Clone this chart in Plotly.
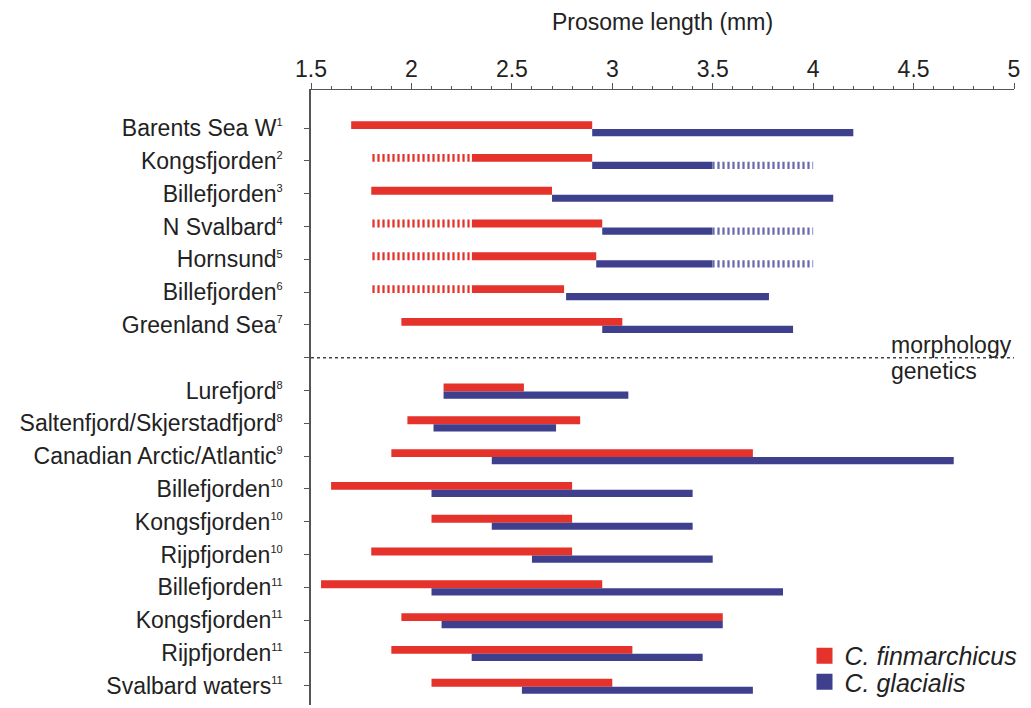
import plotly.graph_objects as go

# ---- data ----
labels = ["Barents Sea W", "Kongsfjorden", "Billefjorden", "N Svalbard", "Hornsund",
          "Billefjorden", "Greenland Sea", "Lurefjord", "Saltenfjord/Skjerstadfjord",
          "Canadian Arctic/Atlantic", "Billefjorden", "Kongsfjorden", "Rijpfjorden",
          "Billefjorden", "Kongsfjorden", "Rijpfjorden", "Svalbard waters"]
refs = [1, 2, 3, 4, 5, 6, 7, 8, 8, 9, 10, 10, 10, 11, 11, 11, 11]
slots = [0, 1, 2, 3, 4, 5, 6, 8, 9, 10, 11, 12, 13, 14, 15, 16, 17]
divider_slot = 7

fin_min = [1.70, 2.30, 1.80, 2.30, 2.30, 2.30, 1.95, 2.16, 1.98, 1.90, 1.60, 2.10, 1.80, 1.55, 1.95, 1.90, 2.10]
fin_max = [2.90, 2.90, 2.70, 2.95, 2.92, 2.76, 3.05, 2.56, 2.84, 3.70, 2.80, 2.80, 2.80, 2.95, 3.55, 3.10, 3.00]
gla_min = [2.90, 2.90, 2.70, 2.95, 2.92, 2.77, 2.95, 2.16, 2.11, 2.40, 2.10, 2.40, 2.60, 2.10, 2.15, 2.30, 2.55]
gla_max = [4.20, 3.50, 4.10, 3.50, 3.50, 3.78, 3.90, 3.08, 2.72, 4.70, 3.40, 3.40, 3.50, 3.85, 3.55, 3.45, 3.70]
# uncertain (hatched) extensions
fin_unc_min = [None, 1.80, None, 1.80, 1.80, 1.80, None, None, None, None, None, None, None, None, None, None, None]
gla_unc_max = [None, 4.00, None, 4.00, 4.00, None, None, None, None, None, None, None, None, None, None, None, None]

x_ticks = [1.5, 2, 2.5, 3, 3.5, 4, 4.5, 5]
x_ticktext = ["1.5", "2", "2.5", "3", "3.5", "4", "4.5", "5"]

RED = "#E5322B"
BLUE = "#3E3F8D"
TXT = "#222222"
FONT = "Arial, Liberation Sans, sans-serif"

fig = go.Figure()

RED_W, RED_OFF = 0.24, -0.21
BLUE_W, BLUE_OFF = 0.22, 0.03

# solid bars
fig.add_trace(go.Bar(orientation="h", y=slots, base=fin_min,
                     x=[b - a for a, b in zip(fin_min, fin_max)],
                     width=RED_W, offset=RED_OFF,
                     marker=dict(color=RED, line=dict(width=0)), showlegend=False))
fig.add_trace(go.Bar(orientation="h", y=slots, base=gla_min,
                     x=[b - a for a, b in zip(gla_min, gla_max)],
                     width=BLUE_W, offset=BLUE_OFF,
                     marker=dict(color=BLUE, line=dict(width=0)), showlegend=False))

# hatched uncertain parts
fu = [(s, u, m) for s, u, m in zip(slots, fin_unc_min, fin_min) if u is not None]
fig.add_trace(go.Bar(orientation="h", y=[r[0] for r in fu], base=[r[1] for r in fu],
                     x=[r[2] - r[1] for r in fu], width=RED_W, offset=RED_OFF,
                     marker=dict(color="white", line=dict(width=0),
                                 pattern=dict(shape="|", fgcolor=RED, bgcolor="white",
                                              size=5, solidity=0.45, fillmode="replace")),
                     showlegend=False))
gu = [(s, m, u) for s, m, u in zip(slots, gla_max, gla_unc_max) if u is not None]
fig.add_trace(go.Bar(orientation="h", y=[r[0] for r in gu], base=[r[1] for r in gu],
                     x=[r[2] - r[1] for r in gu], width=BLUE_W, offset=BLUE_OFF,
                     marker=dict(color="white", line=dict(width=0),
                                 pattern=dict(shape="|", fgcolor="#6A6AAE", bgcolor="white",
                                              size=5, solidity=0.45, fillmode="replace")),
                     showlegend=False))

# legend entries (one legend each, to control row spacing)
fig.add_trace(go.Scatter(x=[None], y=[None], mode="markers", name="<i>C. finmarchicus</i>",
                         marker=dict(symbol="square", size=16, color=RED), legend="legend"))
fig.add_trace(go.Scatter(x=[None], y=[None], mode="markers", name="<i>C. glacialis</i>",
                         marker=dict(symbol="square", size=16, color=BLUE), legend="legend2"))

tickvals = slots[:7] + [divider_slot] + slots[7:]
ticktext = [f"{l}<sup><span style='font-size:11px'>{r}</span></sup>" for l, r in zip(labels, refs)]
ticktext = ticktext[:7] + [""] + ticktext[7:]

leg_common = dict(xanchor="left", font=dict(size=25),
                  bgcolor="rgba(0,0,0,0)", itemsizing="trace", tracegroupgap=0)

fig.update_layout(
    width=1031, height=708,
    margin=dict(l=311, r=17, t=90, b=3),
    paper_bgcolor="white", plot_bgcolor="white",
    barmode="overlay",
    font=dict(family=FONT, size=23, color=TXT),
    xaxis=dict(side="top", range=[1.5, 5], tickvals=x_ticks, ticktext=x_ticktext,
               automargin=False,
               ticks="outside", ticklen=6, tickwidth=1.2, tickcolor="#555",
               showline=True, linecolor="#555", linewidth=1.2,
               showgrid=False, zeroline=False, ticklabelstandoff=-3,
               minor=dict(dtick=0.1, ticks="outside", ticklen=3, tickcolor="#555", tickwidth=1),
               title=dict(text="Prosome length (mm)", standoff=18, font=dict(size=23)),
               tickfont=dict(size=23)),
    yaxis=dict(range=[17.59, -1.16], tickvals=tickvals, ticktext=ticktext,
               automargin=False,
               ticks="outside", ticklen=5, tickwidth=1.2, tickcolor="#555",
               showline=True, linecolor="#555", linewidth=1.5,
               showgrid=False, zeroline=False, ticklabelstandoff=17,
               tickfont=dict(size=23)),
    legend=dict(x=0.702, y=0.0797, yanchor="middle", **leg_common),
    legend2=dict(x=0.702, y=0.0, yanchor="bottom", **leg_common),
)

fig.add_shape(type="line", xref="x", yref="y", x0=1.5, x1=5, y0=divider_slot, y1=divider_slot,
              line=dict(color="#444", width=1.5, dash="dot"))
fig.add_annotation(x=4.38, y=divider_slot, xref="x", yref="y", text="morphology",
                   showarrow=False, xanchor="left", yanchor="bottom", yshift=-2,
                   font=dict(size=23, color=TXT))
fig.add_annotation(x=4.38, y=divider_slot, xref="x", yref="y", text="genetics",
                   showarrow=False, xanchor="left", yanchor="top", yshift=2,
                   font=dict(size=23, color=TXT))

fig.write_html("out.html", config={"displayModeBar": False},
               post_script="document.body.style.margin='0';document.body.style.padding='0';")
